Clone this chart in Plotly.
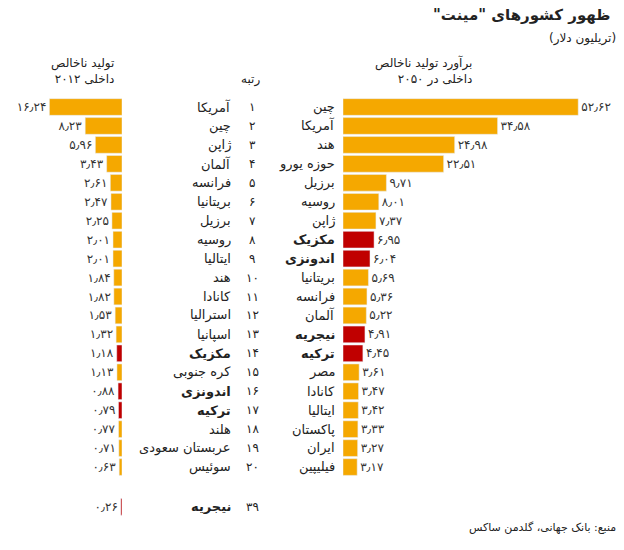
import plotly.graph_objects as go

# 2012 GDP ranking (trillion $)
names_2012 = ["آمریکا", "چین", "ژاپن", "آلمان", "فرانسه", "بریتانیا", "برزیل", "روسیه", "ایتالیا", "هند",
              "کانادا", "استرالیا", "اسپانیا", "مکزیک", "کره جنوبی", "اندونزی", "ترکیه", "هلند",
              "عربستان سعودی", "سوئیس", "نیجریه"]
gdp_2012 = [16.24, 8.23, 5.96, 3.43, 2.61, 2.47, 2.25, 2.01, 2.01, 1.84,
            1.82, 1.53, 1.32, 1.18, 1.13, 0.88, 0.79, 0.77, 0.71, 0.63, 0.26]
ranks_2012 = [1, 2, 3, 4, 5, 6, 7, 8, 9, 10, 11, 12, 13, 14, 15, 16, 17, 18, 19, 20, 39]

# 2050 projection
names_2050 = ["چین", "آمریکا", "هند", "حوزه یورو", "برزیل", "روسیه", "ژاپن", "مکزیک", "اندونزی", "بریتانیا",
              "فرانسه", "آلمان", "نیجریه", "ترکیه", "مصر", "کانادا", "ایتالیا", "پاکستان", "ایران", "فیلیپین"]
gdp_2050 = [52.62, 34.58, 24.98, 22.51, 9.71, 8.01, 7.37, 6.95, 6.04, 5.69,
            5.36, 5.22, 4.91, 4.45, 3.61, 3.47, 3.42, 3.33, 3.27, 3.17]

mint = {"مکزیک", "اندونزی", "ترکیه", "نیجریه"}
ORANGE = "#F5A800"
RED = "#C00000"
FONT = "DejaVu Sans"
W, H = 616, 542   # page body has an 8px margin
OFF = 8
RLM = "\u200f"

def fa(v):
    s = f"{v:.2f}".replace(".", "٫")
    return s.translate(str.maketrans("0123456789", "۰۱۲۳۴۵۶۷۸۹"))

def fa_int(n):
    return str(n).translate(str.maketrans("0123456789", "۰۱۲۳۴۵۶۷۸۹"))

def px(x):
    return (x - OFF) / W

# row positions: Nigeria (rank 39) sits apart below the top 20
pos_2012 = [r if r <= 20 else 22.1 for r in ranks_2012]
pos_2050 = list(range(1, 21))

fig = go.Figure()
fig.add_trace(go.Bar(
    x=gdp_2012, y=pos_2012, orientation="h", xaxis="x", yaxis="y",
    marker_color=[RED if n in mint else ORANGE for n in names_2012],
    width=0.88, text=[fa(v) for v in gdp_2012], textposition="outside",
    textfont=dict(size=12, color="#333"), cliponaxis=False, showlegend=False))
fig.add_trace(go.Bar(
    x=gdp_2050, y=pos_2050, orientation="h", xaxis="x2", yaxis="y",
    marker_color=[RED if n in mint else ORANGE for n in names_2050],
    width=0.88, text=[fa(v) for v in gdp_2050], textposition="outside",
    textfont=dict(size=12, color="#333"), cliponaxis=False, showlegend=False))

ann = []
for n, r, p in zip(names_2012, ranks_2012, pos_2012):
    b = n in mint
    ann.append(dict(x=px(233), y=p, xref="paper", yref="y", xanchor="right", showarrow=False,
                    text=f"<b>{n}</b>" if b else n, font=dict(size=13, color="#222")))
    ann.append(dict(x=px(252), y=p, xref="paper", yref="y", xanchor="center", showarrow=False,
                    text=fa_int(r), font=dict(size=12, color="#222")))
for n, p in zip(names_2050, pos_2050):
    b = n in mint
    ann.append(dict(x=px(337), y=p, xref="paper", yref="y", xanchor="right", showarrow=False,
                    text=f"<b>{n}</b>" if b else n, font=dict(size=13, color="#222")))

def pa(x, y, text, size=12, anchor="right", color="#222"):
    ann.append(dict(x=px(x), y=1 - (y - OFF) / H, xref="paper", yref="paper", xanchor=anchor,
                    yanchor="middle", showarrow=False, text=text, align="right",
                    font=dict(size=size, color=color)))

pa(612, 15, RLM + '<b>ظهور کشورهای "مینت"</b>' + RLM, 15)
pa(618, 38, "(تریلیون دلار)", 12)
pa(116, 71, "تولید ناخالص<br>داخلی ۲۰۱۲", 12)
pa(262, 80, "رتبه", 12)
pa(474, 71, "برآورد تولید ناخالص<br>داخلی در ۲۰۵۰", 12)
pa(618, 527, "منبع: بانک جهانی، گلدمن ساکس", 11)

s = 4.47
row = 18.95
rmin = 1 - (107 - OFF) / row
rmax = rmin + H / row
fig.update_layout(
    width=W, height=H, margin=dict(l=0, r=0, t=0, b=0),
    plot_bgcolor="white", paper_bgcolor="white", font=dict(family=FONT),
    annotations=ann,
    xaxis=dict(domain=[0, px(122)], range=[(122 - OFF) / s, 0], visible=False),
    xaxis2=dict(domain=[px(343), 1], range=[0, (W + OFF - 343) / s], visible=False, anchor="y"),
    yaxis=dict(range=[rmax, rmin], visible=False),
)
fig.write_html("out.html")
